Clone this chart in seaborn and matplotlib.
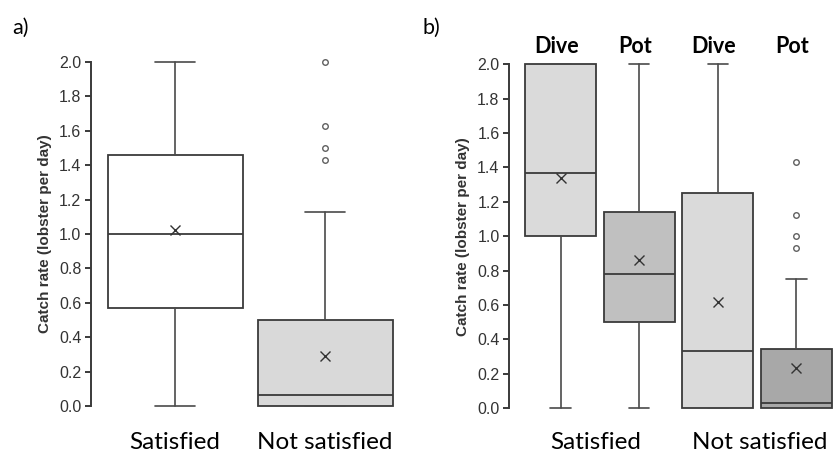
import matplotlib
matplotlib.use("Agg")
import matplotlib.pyplot as plt
import matplotlib.transforms as mtransforms
import seaborn as sns

# ---- panel a: catch rate by satisfaction ----
a_groups = ["Satisfied", "Not satisfied"]
a_whislo = [0.0, 0.0]
a_q1 = [0.57, 0.0]
a_med = [1.0, 0.066]
a_q3 = [1.46, 0.5]
a_whishi = [2.0, 1.125]
a_mean = [1.025, 0.293]
a_fliers = [[], [2.0, 1.625, 1.5, 1.43]]
a_fill = ["#ffffff", "#d9d9d9"]

# ---- panel b: catch rate by satisfaction and fishing method ----
b_gears = ["Dive", "Pot", "Dive", "Pot"]
b_groups = ["Satisfied", "Not satisfied"]
b_whislo = [0.0, 0.0, 0.0, 0.0]
b_q1 = [1.0, 0.5, 0.0, 0.0]
b_med = [1.37, 0.78, 0.333, 0.033]
b_q3 = [2.0, 1.143, 1.25, 0.345]
b_whishi = [2.0, 2.0, 2.0, 0.75]
b_mean = [1.337, 0.86, 0.618, 0.236]
b_fliers = [[], [], [], [1.43, 1.125, 1.0, 0.93]]
b_fill = ["#dadada", "#c0c0c0", "#dadada", "#a8a8a8"]

y_ticks = [0.0, 0.2, 0.4, 0.6, 0.8, 1.0, 1.2, 1.4, 1.6, 1.8, 2.0]
y_label = "Catch rate (lobster per day)"

sns.set_theme(style="white")
plt.rcParams["font.family"] = ["Liberation Sans", "DejaVu Sans"]

W, H = 835, 455
fig = plt.figure(figsize=(W / 100, H / 100), dpi=100)

EDGE = "#3a3a3a"
WHISK = "#4a4a4a"
TICKC = "#333333"
LABEL_FONT = ["Lato", "DejaVu Sans"]
GROUP_BASELINE = 1 - 449 / H


def make_stats(labels, whislo, q1, med, q3, whishi, mean, fliers):
    return [
        dict(label=l, whislo=lo, q1=a, med=m, q3=b, whishi=hi, mean=mu, fliers=f)
        for l, lo, a, m, b, hi, mu, f in zip(labels, whislo, q1, med, q3, whishi, mean, fliers)
    ]


def draw_panel(rect, xlim, stats, fills, capw):
    ax = fig.add_axes(rect)
    pos = list(range(1, len(stats) + 1))
    bp = ax.bxp(
        stats, positions=pos, widths=0.9, patch_artist=True,
        showmeans=True, showfliers=True, capwidths=capw,
        boxprops=dict(edgecolor=EDGE, linewidth=1.3),
        medianprops=dict(color=EDGE, linewidth=1.3),
        whiskerprops=dict(color=WHISK, linewidth=1.2),
        capprops=dict(color=WHISK, linewidth=1.2),
        meanprops=dict(marker="x", markersize=7.5, markeredgecolor="#333333",
                       markeredgewidth=1.0),
        flierprops=dict(marker="o", markersize=4, markerfacecolor="white",
                        markeredgecolor="#606060", markeredgewidth=1.0),
    )
    for patch, c in zip(bp["boxes"], fills):
        patch.set_facecolor(c)
    for art in bp["caps"] + bp["whiskers"]:
        art.set_clip_on(False)
    ax.set_xlim(*xlim)
    ax.set_ylim(-0.03, 2.03)
    ax.set_yticks(y_ticks)
    ax.set_yticklabels([f"{t:.1f}" for t in y_ticks])
    ax.set_xticks([])
    for s in ["top", "right", "bottom"]:
        ax.spines[s].set_visible(False)
    ax.spines["left"].set_bounds(0, 2)
    ax.spines["left"].set_color("#3a3a3a")
    ax.spines["left"].set_linewidth(1.4)
    ax.tick_params(axis="y", which="major", left=True, direction="out",
                   length=4, width=1.4, color="#3a3a3a", labelsize=11.5,
                   labelcolor=TICKC, pad=3)
    ax.patch.set_alpha(0)
    return ax


# panel a
ax_a = draw_panel(
    [91 / W, 1 - 411.16 / H, 309 / W, 354.32 / H], (0.44, 2.5),
    make_stats(a_groups, a_whislo, a_q1, a_med, a_q3, a_whishi, a_mean, a_fliers),
    a_fill, 0.27,
)
ax_a.set_ylabel(y_label, fontsize=11, fontweight="bold", color=TICKC, labelpad=5)
tr_a = mtransforms.blended_transform_factory(ax_a.transData, fig.transFigure)
for i, g in enumerate(a_groups):
    ax_a.text(i + 1, GROUP_BASELINE, g, transform=tr_a, ha="center", va="baseline",
              fontsize=17.5, family=LABEL_FONT, color="black")

# panel b
ax_b = draw_panel(
    [509.3 / W, 1 - 413.46 / H, 324.7 / W, 354.32 / H], (0.3455, 4.48),
    make_stats(b_gears, b_whislo, b_q1, b_med, b_q3, b_whishi, b_mean, b_fliers),
    b_fill, 0.26,
)
ax_b.set_ylabel(y_label, fontsize=11, fontweight="bold", color=TICKC, labelpad=5)
tr_b = mtransforms.blended_transform_factory(ax_b.transData, fig.transFigure)
for i, g in enumerate(b_gears):
    ax_b.text(i + 1 - 0.05, 1 - 53 / H, g, transform=tr_b, ha="center", va="baseline",
              fontsize=15.5, fontweight="bold", family=LABEL_FONT, color="black")
for x, g in zip([1.45, 3.53], b_groups):
    ax_b.text(x, GROUP_BASELINE, g, transform=tr_b, ha="center", va="baseline",
              fontsize=17.5, family=LABEL_FONT, color="black")

# panel letters
fig.text(12 / W, 1 - 34 / H, "a)", fontsize=15.5, family=LABEL_FONT, color="black")
fig.text(423 / W, 1 - 34 / H, "b)", fontsize=15.5, family=LABEL_FONT, color="black")

fig.savefig("out.png", dpi=100)
